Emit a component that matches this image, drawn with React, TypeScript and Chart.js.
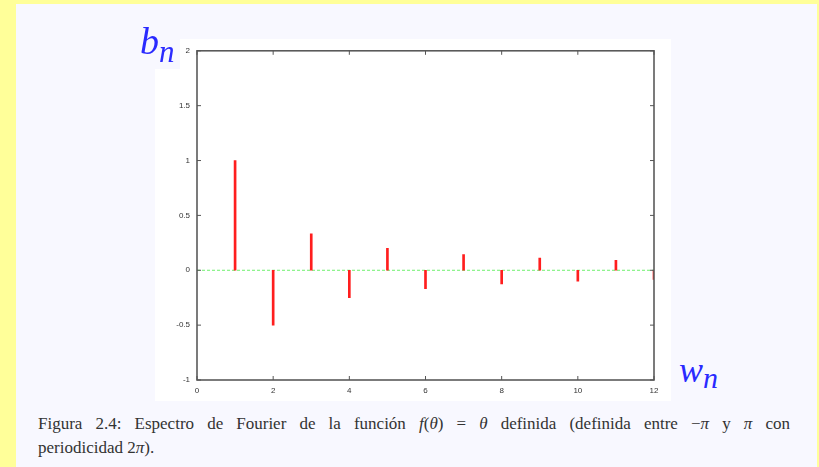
import React, { useEffect, useRef } from "react";
import { Chart, registerables } from "chart.js";

Chart.register(...registerables);

const harmonics = [1, 2, 3, 4, 5, 6, 7, 8, 9, 10, 11, 12];
const bnValues = [1, -0.5, 0.333, -0.25, 0.2, -0.167, 0.143, -0.125, 0.111, -0.1, 0.091, -0.083];
const zeroLineX = [0, 12];
const xTickStep = 2;
const yTickStep = 0.5;

const framePlugin = {
  id: "gnuframe",
  afterDatasetsDraw(chart: any) {
    const { ctx, chartArea: a, scales } = chart;
    const xs = scales.x;
    const ys = scales.y;
    ctx.save();
    ctx.strokeStyle = "#5a5a5a";
    ctx.lineWidth = 1.6;
    ctx.strokeRect(a.left, a.top, a.right - a.left, a.bottom - a.top);
    ctx.lineWidth = 1;
    ctx.strokeStyle = "#555";
    const tl = 4;
    xs.ticks.forEach((t: any) => {
      const px = xs.getPixelForValue(t.value);
      ctx.beginPath();
      ctx.moveTo(px, a.bottom);
      ctx.lineTo(px, a.bottom - tl);
      ctx.moveTo(px, a.top);
      ctx.lineTo(px, a.top + tl);
      ctx.stroke();
    });
    ys.ticks.forEach((t: any) => {
      const py = ys.getPixelForValue(t.value);
      ctx.beginPath();
      ctx.moveTo(a.left, py);
      ctx.lineTo(a.left + tl, py);
      ctx.moveTo(a.right, py);
      ctx.lineTo(a.right - tl, py);
      ctx.stroke();
    });
    ctx.restore();
  },
};

export default function App() {
  const ref = useRef<HTMLCanvasElement | null>(null);
  useEffect(() => {
    if (!ref.current) return;
    const chart = new Chart(ref.current, {
      type: "bar",
      data: {
        datasets: [
          {
            type: "bar",
            data: harmonics.map((h, i) => ({ x: h, y: bnValues[i] })),
            backgroundColor: "rgb(255,30,30)",
            borderWidth: 0,
            barThickness: 2,
            order: 1,
          } as any,
          {
            type: "line",
            data: zeroLineX.map((x) => ({ x, y: 0 })),
            borderColor: "rgb(110,240,110)",
            borderWidth: 1,
            borderDash: [3, 2],
            pointRadius: 0,
            order: 2,
          } as any,
        ],
      },
      options: {
        animation: false,
        responsive: false,
        maintainAspectRatio: false,
        layout: { padding: { top: 11, right: 17, left: 0, bottom: 0 } },
        plugins: { legend: { display: false }, tooltip: { enabled: false } },
        scales: {
          x: {
            type: "linear",
            min: 0,
            max: 12,
            offset: false,
            grid: { display: false, drawTicks: false },
            border: { display: false },
            ticks: {
              stepSize: xTickStep,
              padding: 6,
              color: "#333",
              font: { family: '"Liberation Sans", "DejaVu Sans", sans-serif', size: 8 },
              maxRotation: 0,
              callback: (v: any) => String(v),
            },
            afterFit: (s: any) => {
              s.height = 21;
            },
          },
          y: {
            type: "linear",
            min: -1,
            max: 2,
            grid: { display: false, drawTicks: false },
            border: { display: false },
            ticks: {
              stepSize: yTickStep,
              padding: 7,
              color: "#333",
              font: { family: '"Liberation Sans", "DejaVu Sans", sans-serif', size: 8 },
              callback: (v: any) => String(v),
            },
            afterFit: (s: any) => {
              s.width = 42;
            },
          },
        },
      } as any,
      plugins: [framePlugin],
    });
    return () => chart.destroy();
  }, []);

  const serif = '"Liberation Serif", "Times New Roman", serif';
  return (
    <div style={{ position: "absolute", left: 0, top: 0, width: 819, height: 467, background: "#ffff99", overflow: "hidden" }}>
      <div style={{ position: "absolute", left: 16, top: 4, width: 801, height: 463, background: "#f8f8ff" }} />
      <div style={{ position: "absolute", left: 155, top: 39, width: 516, height: 362, background: "#ffffff" }} />
      <canvas ref={ref} width={516} height={362} style={{ position: "absolute", left: 155, top: 39, width: 516, height: 362, display: "block" }} />
      <div style={{ position: "absolute", left: 136, top: 28, width: 44, height: 41, background: "#f8f8ff" }} />
      <div style={{ position: "absolute", left: 140, top: 21, fontFamily: serif, fontStyle: "italic", fontSize: 38, color: "#2a2aff", lineHeight: "40px", whiteSpace: "nowrap" }}>
        b<span style={{ fontSize: 31, position: "relative", top: 8, left: 0 }}>n</span>
      </div>
      <div style={{ position: "absolute", left: 679, top: 350, fontFamily: serif, fontStyle: "italic", fontSize: 36, color: "#2a2aff", lineHeight: "40px", whiteSpace: "nowrap" }}>
        w<span style={{ fontSize: 30, position: "relative", top: 6, left: 0 }}>n</span>
      </div>
      <div style={{ position: "absolute", left: 38, top: 412, width: 752, fontFamily: serif, fontSize: 17, color: "#333", lineHeight: "24px" }}>
        <div style={{ whiteSpace: "nowrap", display: "flex", justifyContent: "space-between" }}>
          {["Figura", "2.4:", "Espectro", "de", "Fourier", "de", "la", "función"].map((w, i) => <span key={"a" + i}>{w}</span>)}
          <span><i>f</i>(<i>θ</i>)</span>
          <span>=</span>
          <span><i>θ</i></span>
          {["definida", "(definida", "entre"].map((w, i) => <span key={"b" + i}>{w}</span>)}
          <span>−<i>π</i></span>
          <span>y</span>
          <span><i>π</i></span>
          <span>con</span>
        </div>
        <div>periodicidad 2<i>π</i>).</div>
      </div>
    </div>
  );
}
